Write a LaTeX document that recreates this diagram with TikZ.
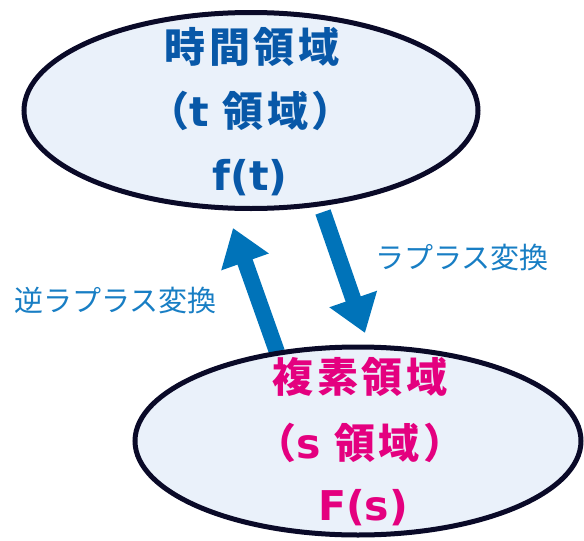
\documentclass[tikz,border=0pt]{standalone}
\usepackage{fontspec}
\newfontfamily\jp{Noto Sans CJK JP}
\newfontfamily\jpsp{Noto Sans CJK JP}[LetterSpace=9]
\newfontfamily\lat{DejaVu Sans}
\usetikzlibrary{shapes.geometric,arrows.meta}
\definecolor{ellfill}{RGB}{234,241,250}
\definecolor{ellline}{RGB}{10,10,40}
\definecolor{topblue}{RGB}{8,88,168}
\definecolor{pinkc}{RGB}{228,0,127}
\definecolor{arrblue}{RGB}{0,115,185}
\definecolor{lblblue}{RGB}{24,126,196}
\tikzset{
  domainbox/.style={ellipse, draw=ellline, fill=ellfill, line width=5pt, inner sep=0pt},
  bigtxt/.style={font=\jpsp\bfseries\fontsize{41}{44}\selectfont, inner sep=0pt, anchor=center},
  lattxt/.style={font=\lat\bfseries\fontsize{41}{44}\selectfont, inner sep=0pt, anchor=center},
  fatarrow/.style={draw=arrblue, line width=16pt, -{Triangle[width=48pt,length=36pt]}},
  lbl/.style={font=\jp\fontsize{29}{32}\selectfont, text=lblblue, inner sep=0pt}
}
\newcommand{\latc}[1]{{\lat\bfseries #1}}
\begin{document}
\begin{tikzpicture}[x=1pt,y=-1pt]
\useasboundingbox (0,0) rectangle (584,541);
% arrow end points
\coordinate (upS) at (277,352);
\coordinate (upE) at (233,228);
\coordinate (dnS) at (323,212);
\coordinate (dnE) at (365,333);
\draw[fatarrow] (upS) -- (upE);
\draw[fatarrow] (dnS) -- (dnE);
% ellipses
\node[domainbox, minimum width=454pt, minimum height=196pt] (time) at (251,110.5) {};
\node[domainbox, minimum width=446pt, minimum height=188pt] (comp) at (358,441) {};
% top texts
\node[bigtxt, text=topblue] (t1) at (252,46.5) {時間領域};
\node[bigtxt, text=topblue] (t2) at (251,111) {（\latc{t} 領域）};
\node[lattxt, text=topblue] (t3) at (250,178) {f(t)};
% bottom texts
\node[bigtxt, text=pinkc] (s1) at (360,376.5) {複素領域};
\node[bigtxt, text=pinkc] (s2) at (360,443) {（\latc{s} 領域）};
\node[lattxt, text=pinkc] (s3) at (363,508) {F(s)};
% labels
\node[lbl] (lap) at (462,258) {ラプラス変換};
\node[lbl] (ilap) at (115.5,301) {逆ラプラス変換};
\end{tikzpicture}
\end{document}
